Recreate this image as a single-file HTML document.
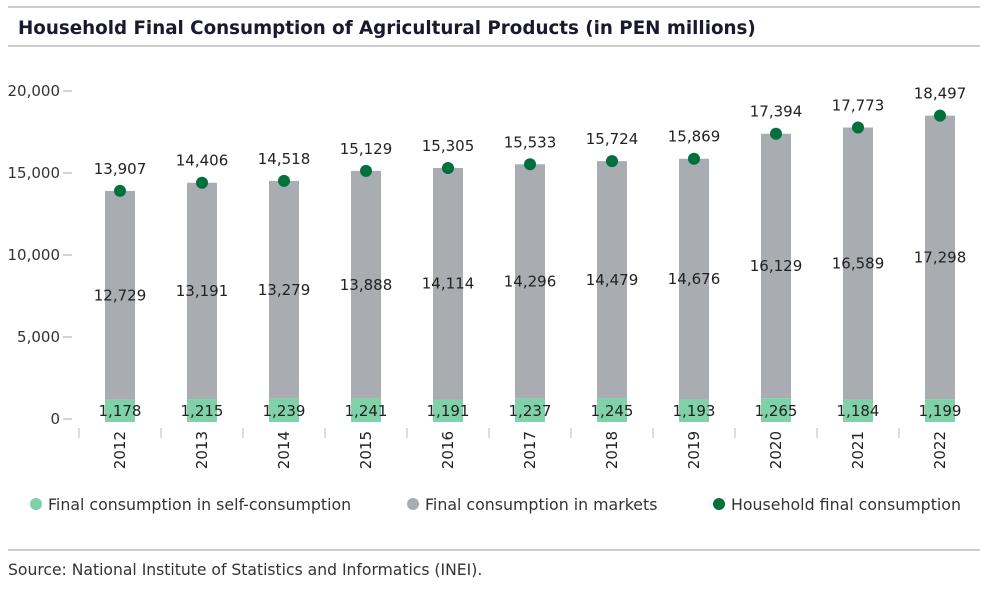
<!DOCTYPE html>
<html><head><meta charset="utf-8"><style>
body{margin:0;background:#fff;font-family:"Liberation Sans","DejaVu Sans",sans-serif;}
svg text{font-family:"DejaVu Sans","Liberation Sans",sans-serif;}
</style></head><body>
<svg id="c" width="1007" height="586">
<line x1="8" y1="7" x2="980" y2="7" stroke="#999" stroke-width="1"/>
<text x="18" y="34" font-size="18.3" fill="#1a1a2e" style="font-family:'DejaVu Sans',sans-serif;font-weight:600">Household Final Consumption of Agricultural Products (in PEN millions)</text>
<line x1="8" y1="46" x2="980" y2="46" stroke="#999"/>
<g id="g"></g>
<g>
<circle cx="36" cy="504" r="6" fill="#7fd1a8"/>
<text x="48" y="510" font-size="15.8" fill="#333">Final consumption in self-consumption</text>
<circle cx="413" cy="504" r="6" fill="#a9acb1"/>
<text x="425" y="510" font-size="15.8" fill="#333">Final consumption in markets</text>
<circle cx="719" cy="504" r="6" fill="#00703c"/>
<text x="731" y="510" font-size="15.8" fill="#333">Household final consumption</text>
</g>
<line x1="8" y1="550" x2="980" y2="550" stroke="#999"/>
<text x="8" y="575" font-size="15.6" fill="#333">Source: National Institute of Statistics and Informatics (INEI).</text>
</svg>
<script>
const years=["2012","2013","2014","2015","2016","2017","2018","2019","2020","2021","2022"];
const selfVals=[1178,1215,1239,1241,1191,1237,1245,1193,1265,1184,1199];
const marketVals=[12729,13191,13279,13888,14114,14296,14479,14676,16129,16589,17298];
const totalVals=[13907,14406,14518,15129,15305,15533,15724,15869,17394,17773,18497];
const yTicks=[0,5000,10000,15000,20000];
const NS="http://www.w3.org/2000/svg",g=document.getElementById('g');
const y=v=>419-v*0.0164, x=i=>120+i*82;
function mk(t,a,txt){const e=document.createElementNS(NS,t);for(const k in a)e.setAttribute(k,a[k]);if(txt!=null)e.textContent=txt;g.appendChild(e);return e;}
const f=n=>n.toLocaleString('en-US');
yTicks.forEach(v=>{
let t=mk('text',{x:60,y:y(v)+5,'font-size':15,fill:'#333','text-anchor':'end'},f(v));


let l=mk('line',{x1:63,x2:72,y1:y(v),y2:y(v),stroke:'#aaa'});


});
years.forEach((yr,i)=>{
const cx=x(i),w=30;
let s=mk('line',{x1:cx-41,x2:cx-41,y1:428,y2:438,stroke:'#bbb'});


let gb=mk('rect',{x:cx-w/2,y:y(selfVals[i]+marketVals[i]),width:w,height:y(selfVals[i])-y(selfVals[i]+marketVals[i]),fill:'#a9acb1'});


let sb=mk('rect',{x:cx-w/2,y:y(selfVals[i]),width:w,height:y(0)-y(selfVals[i])+3,fill:'#7fd1a8'});


let sl=mk('text',{x:cx,y:y(0)-3,'font-size':15,fill:'#222','text-anchor':'middle'},f(selfVals[i]));


let ml=mk('text',{x:cx,y:y(marketVals[i]/2+selfVals[i])+5,'font-size':15,fill:'#222','text-anchor':'middle'},f(marketVals[i]));


let d=mk('circle',{cx:cx,cy:y(totalVals[i]),r:6,fill:'#00703c'});


let tl=mk('text',{x:cx,y:y(totalVals[i])-17,'font-size':15,fill:'#222','text-anchor':'middle'},f(totalVals[i]));


let xl=mk('text',{x:0,y:0,'font-size':15,fill:'#222','text-anchor':'end',transform:`translate(${cx+5},431) rotate(-90)`},yr);


});
</script>
</body></html>
